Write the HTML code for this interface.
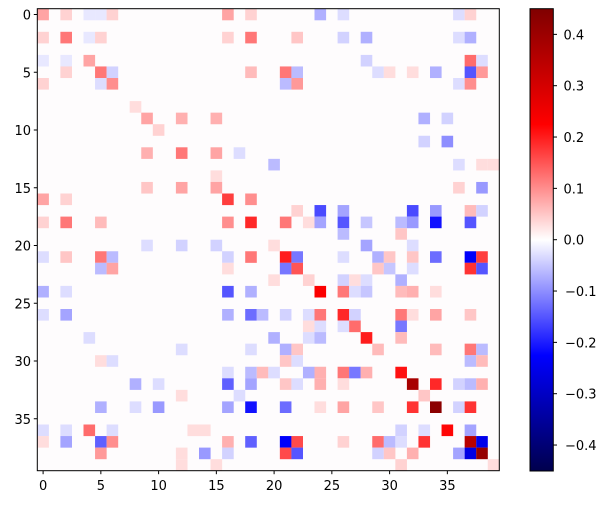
<!DOCTYPE html>
<html><head><meta charset="utf-8"><style>
body{margin:0;background:#fff;}
svg{display:block;font-family:"DejaVu Sans","Liberation Sans",sans-serif;}
</style></head><body>
<svg id="s" width="606" height="505" xmlns="http://www.w3.org/2000/svg">
<defs><linearGradient id="cb" x1="0" y1="1" x2="0" y2="0">
<stop offset="0" stop-color="#00004d"/><stop offset="0.25" stop-color="#0000ff"/><stop offset="0.5" stop-color="#ffffff"/><stop offset="0.75" stop-color="#ff0000"/><stop offset="1" stop-color="#800000"/>
</linearGradient></defs>
<rect x="37.3" y="8.7" width="462" height="462" fill="#fefcfd"/>
<g id="cells"></g>
<rect x="37.3" y="8.7" width="462" height="462" fill="none" stroke="#000" stroke-width="1"/>
<g id="ticks" font-size="13" fill="#000"></g>
<rect x="530" y="8.7" width="23.3" height="462.3" fill="url(#cb)" stroke="#000" stroke-width="1"/>
</svg>
<script>
var D=[
[0,0,.08],[0,2,.04],[0,4,-.02],[0,5,-.02],[0,6,.04],[0,16,.08],[0,18,.04],[0,24,-.07],[0,26,-.03],[0,36,-.03],[0,37,.04],
[2,0,.04],[2,2,.12],[2,4,-.02],[2,5,.04],[2,16,.04],[2,18,.12],[2,22,.05],[2,26,-.04],[2,28,-.07],[2,36,-.03],[2,37,-.07],
[4,0,-.02],[4,2,-.02],[4,4,.08],[4,28,-.04],[4,37,.13],[4,38,-.03],
[5,2,.04],[5,5,.12],[5,6,-.04],[5,18,.06],[5,21,.12],[5,22,-.06],[5,29,-.03],[5,30,.03],[5,32,.03],[5,34,-.07],[5,37,-.15],[5,38,.09],
[6,0,.04],[6,5,-.03],[6,6,.1],[6,21,-.06],[6,22,.09],[6,36,-.03],[6,37,.1],
[8,8,.03],[9,9,.08],[9,12,.07],[9,15,.07],[9,33,-.07],[9,35,-.04],[10,10,.04],
[11,33,-.04],[11,35,-.1],
[12,9,.07],[12,12,.12],[12,15,.08],[12,17,-.03],[13,20,-.06],[13,36,-.03],[13,38,.03],[13,39,.03],
[14,15,.03],[15,9,.05],[15,12,.08],[15,15,.08],[15,36,.04],[15,38,-.09],
[16,0,.08],[16,2,.04],[16,16,.17],[16,18,.1],
[17,22,.04],[17,24,-.16],[17,26,-.08],[17,32,-.16],[17,34,-.09],[17,37,.06],[17,38,-.04],
[18,0,.04],[18,2,.12],[18,5,.06],[18,16,.1],[18,18,.19],[18,21,.12],[18,23,.03],[18,24,-.08],[18,26,-.15],[18,28,-.05],[18,31,-.06],[18,32,-.09],[18,34,-.21],[18,37,-.15],
[19,26,-.06],[19,31,.05],
[20,9,-.03],[20,12,-.04],[20,15,-.04],[20,20,.03],[20,28,-.08],[20,32,-.03],
[21,0,-.03],[21,2,.05],[21,5,.12],[21,6,-.06],[21,16,-.04],[21,18,.12],[21,21,.2],[21,22,-.12],[21,26,-.03],[21,29,-.07],[21,30,.05],[21,32,.05],[21,34,-.13],[21,37,-.23],[21,38,.17],
[22,5,-.06],[22,6,.08],[22,16,.03],[22,21,-.12],[22,22,.15],[22,29,.05],[22,30,-.05],[22,32,-.03],[22,37,.18],[22,38,-.15],
[23,20,.03],[23,23,.04],[23,26,-.04],[23,27,.03],[23,28,-.03],[23,31,-.07],
[24,0,-.07],[24,2,-.03],[24,16,-.15],[24,18,-.07],[24,24,.23],[24,26,.12],[24,27,-.03],[24,28,-.05],[24,31,.06],[24,32,.07],[24,34,.03],
[26,0,-.03],[26,2,-.08],[26,16,-.07],[26,18,-.13],[26,19,-.06],[26,21,-.04],[26,23,-.03],[26,24,.12],[26,26,.19],[26,27,-.04],[26,31,.12],[26,32,.03],[26,34,.08],[26,37,.05],
[27,23,.03],[27,24,-.03],[27,26,-.03],[27,27,.13],[27,31,-.12],
[28,4,-.03],[28,20,-.07],[28,23,-.03],[28,24,-.06],[28,28,.2],[28,31,.06],
[29,12,-.03],[29,18,-.03],[29,21,-.07],[29,22,.05],[29,29,.06],[29,34,.06],[29,37,.12],[29,38,-.06],
[30,5,.03],[30,6,-.03],[30,21,.05],[30,22,-.03],[30,37,-.06],[30,38,.06],
[31,16,-.03],[31,18,-.06],[31,19,.06],[31,20,-.03],[31,23,-.07],[31,24,.07],[31,26,.12],[31,27,-.12],[31,28,.07],[31,31,.21],
[32,8,-.07],[32,10,-.03],[32,16,-.14],[32,18,-.08],[32,21,.05],[32,22,-.03],[32,24,.07],[32,26,.03],[32,32,.38],[32,34,.19],[32,36,-.04],[32,37,-.06],[32,38,.07],
[33,12,.03],[33,17,-.03],[33,33,.05],
[34,5,-.07],[34,8,-.03],[34,10,-.09],[34,16,-.08],[34,18,-.21],[34,21,-.13],[34,24,.03],[34,26,.08],[34,29,.05],[34,32,.18],[34,34,.43],[34,36,-.04],[34,37,.18],
[36,0,-.03],[36,2,-.03],[36,4,.13],[36,6,-.03],[36,13,.03],[36,14,.03],[36,31,-.04],[36,33,-.03],[36,35,.22],[36,37,-.08],
[37,0,.03],[37,2,-.08],[37,5,-.14],[37,6,.1],[37,16,.07],[37,18,-.14],[37,21,-.23],[37,22,.16],[37,26,.04],[37,29,.13],[37,30,-.06],[37,31,-.03],[37,33,.18],[37,37,.35],[37,38,-.25],
[38,5,.09],[38,12,.03],[38,14,-.09],[38,16,-.04],[38,21,.16],[38,22,-.15],[38,29,-.04],[38,30,.05],[38,32,.07],[38,36,-.08],[38,37,-.26],[38,38,.41],
[39,12,.03],[39,15,.03],[39,31,.04],[39,39,.03]
];
function col(v){var t=Math.max(-1,Math.min(1,v/0.45)),r,g,b;
if(t<-0.5){r=0;g=0;b=0.3+(t+1)/0.5*0.7;}
else if(t<0){var s=(t+0.5)/0.5;r=s;g=s;b=1;}
else if(t<0.5){var s=t/0.5;r=1;g=1-s;b=1-s;}
else{r=1-(t-0.5);g=0;b=0;}
return "rgb("+Math.round(r*255)+","+Math.round(g*255)+","+Math.round(b*255)+")";}
var h="",c=11.55;
D.forEach(function(d){h+='<rect x="'+(37.3+d[1]*c).toFixed(2)+'" y="'+(8.7+d[0]*c).toFixed(2)+'" width="'+(c+0.05)+'" height="'+(c+0.05)+'" fill="'+col(d[2])+'"/>';});
document.getElementById("cells").innerHTML=h;
var t="";
for(var k=0;k<8;k++){var x=43.1+57.75*k,y=14.5+57.75*k;
t+='<line x1="'+x+'" y1="470.7" x2="'+x+'" y2="474.2" stroke="#000"/><text x="'+x+'" y="490" text-anchor="middle">'+(5*k)+'</text>';
t+='<line x1="37.3" y1="'+y+'" x2="33.8" y2="'+y+'" stroke="#000"/><text x="31" y="'+(y+5)+'" text-anchor="end">'+(5*k)+'</text>';}
for(var k=0;k<9;k++){var v=0.4-0.1*k,y=8.7+(0.45-v)/0.9*462;
t+='<line x1="553.3" y1="'+y+'" x2="557" y2="'+y+'" stroke="#000"/><text x="'+(v<-1e-9?565:563.5)+'" y="'+(y+5)+'">'+(Math.abs(v)<1e-9?"0.0":(v<0?"\u2212":"")+Math.abs(v).toFixed(1))+'</text>';}
document.getElementById("ticks").innerHTML=t;
</script>
</body></html>
